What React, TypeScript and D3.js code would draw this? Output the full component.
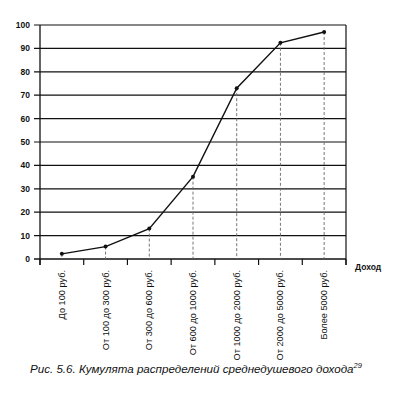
import React from 'react';
import * as d3 from 'd3';

const width = 413;
const height = 397;
const margins = { top: 25, bottom: 138, left: 40, right: 67 };

// накопленные проценты по группам дохода
const categories = [
  'До 100 руб.',
  'От 100 до 300 руб.',
  'От 300 до 600 руб.',
  'От 600 до 1000 руб.',
  'От 1000 до 2000 руб.',
  'От 2000 до 5000 руб.',
  'Более 5000 руб.',
];
const cumulative = [2.2, 5.3, 13, 35.2, 73, 92.4, 97];
const yTicks = [0, 10, 20, 30, 40, 50, 60, 70, 80, 90, 100];

const font = '"Liberation Sans", Arial, sans-serif';

export default function App() {
  const xScale = d3
    .scaleBand<string>()
    .domain(categories)
    .range([margins.left, width - margins.right]);

  const yScale = d3
    .scaleLinear()
    .domain([0, 100])
    .range([height - margins.bottom, margins.top]);

  const cx = (c: string) => (xScale(c) as number) + xScale.bandwidth() / 2;

  const line = d3
    .line<number>()
    .x((d, i) => cx(categories[i]))
    .y((d) => yScale(d));

  const x0 = margins.left;
  const x1 = width - margins.right;
  const y0 = yScale(0);
  const bounds = categories.map((c) => xScale(c) as number).concat([x1]);

  return (
    <svg
      width={width}
      height={height}
      style={{ position: 'absolute', left: 0, top: 0, background: '#fff' }}
    >
      {/* горизонтальные линии сетки */}
      {yTicks.map((t) => (
        <g key={t}>
          <line x1={x0 - 6} x2={x1} y1={yScale(t)} y2={yScale(t)} stroke="#111" strokeWidth={t === 0 ? 1.6 : 1.2} />
          <text
            x={x0 - 10}
            y={yScale(t)}
            dy="0.35em"
            textAnchor="end"
            fontFamily={font}
            fontSize={8.5}
            fontWeight="bold"
            fill="#111"
          >
            {t}
          </text>
        </g>
      ))}
      <line x1={x0} x2={x0} y1={yScale(100)} y2={y0 + 6} stroke="#111" strokeWidth={1.3} />
      <line x1={x1} x2={x1} y1={yScale(100)} y2={y0 + 6} stroke="#111" strokeWidth={1.2} />
      {bounds.map((b, i) => (
        <line key={i} x1={b} x2={b} y1={y0} y2={y0 + 6} stroke="#111" strokeWidth={1.2} />
      ))}

      {/* пунктирные опускающиеся линии */}
      {cumulative.map((v, i) => (
        <line
          key={i}
          x1={cx(categories[i])}
          x2={cx(categories[i])}
          y1={yScale(v)}
          y2={y0}
          stroke="#666"
          strokeWidth={0.9}
          strokeDasharray="3,2"
        />
      ))}

      <path d={line(cumulative) as string} fill="none" stroke="#111" strokeWidth={1.4} />
      {cumulative.map((v, i) => (
        <circle key={i} cx={cx(categories[i])} cy={yScale(v)} r={2} fill="#111" />
      ))}

      {categories.map((c) => (
        <text
          key={c}
          transform={`translate(${cx(c) + 3},${y0 + 11}) rotate(-90)`}
          textAnchor="end"
          fontFamily={font}
          fontSize={9.2}
          fill="#111"
        >
          {c}
        </text>
      ))}

      <text x={x1 + 9} y={y0 + 11} fontFamily={font} fontSize={8.5} fontWeight="bold" fill="#111">
        Доход
      </text>

      <text x={30} y={373} fontFamily={font} fontSize={11.6} fontStyle="italic" fill="#111">
        Рис. 5.6. Кумулята распределений среднедушевого дохода
        <tspan fontSize={7.5} dy={-5}>29</tspan>
      </text>
    </svg>
  );
}
